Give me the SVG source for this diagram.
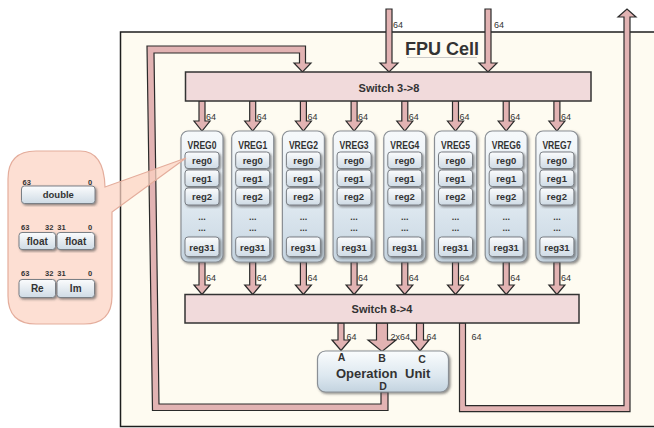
<svg xmlns="http://www.w3.org/2000/svg" xmlns:xlink="http://www.w3.org/1999/xlink" width="654" height="428" viewBox="0 0 654 428">
<defs>
<style>
.t{font-family:"Liberation Sans",Arial,sans-serif;font-weight:bold;fill:#333}
.c{text-anchor:middle}
.lbl{font-family:"Liberation Sans",Arial,sans-serif;font-size:9px;fill:#333}
.arrow{fill:#e2b3b3;stroke:#2a2a2a;stroke-width:1.2;stroke-linejoin:miter}
.sw{fill:#f1dadb;stroke:#333;stroke-width:1.5}
.vreg{fill:url(#gv);stroke:#8a8f95;stroke-width:1.2;filter:url(#sh)}
.reg{fill:url(#gr);stroke:#7a7f85;stroke-width:1;filter:url(#sh)}
.vt{font-size:10.5px}
.rt{font-size:9.5px}
.dots{font-size:9px}
.bl{font-family:"Liberation Sans",Arial,sans-serif;font-size:7.5px;font-weight:bold;fill:#333}
</style>
<linearGradient id="gv" x1="0" y1="0" x2="0" y2="1">
<stop offset="0" stop-color="#f6f9fb"/>
<stop offset="0.5" stop-color="#e2ebf2"/>
<stop offset="1" stop-color="#c6d5e1"/>
</linearGradient>
<linearGradient id="gr" x1="0" y1="0" x2="0" y2="1">
<stop offset="0" stop-color="#fbfcfd"/>
<stop offset="1" stop-color="#cfdbe5"/>
</linearGradient>
<linearGradient id="go" x1="0" y1="0" x2="0" y2="1">
<stop offset="0" stop-color="#fafcfd"/>
<stop offset="0.6" stop-color="#dde8f0"/>
<stop offset="1" stop-color="#c3d3df"/>
</linearGradient>
<filter id="sh" x="-20%" y="-20%" width="140%" height="140%">
<feDropShadow dx="1.5" dy="1.5" stdDeviation="0.8" flood-color="#444" flood-opacity="0.6"/>
</filter>
<path id="aTop" d="M-3,101 H3 V121 H8 L0,131 L-8,121 H-3 Z"/>
<path id="aBot" d="M-3,262 H3 V285 H8 L0,294.5 L-8,285 H-3 Z"/>
</defs>

<rect x="0" y="0" width="654" height="428" fill="#ffffff"/>

<g id="fpu">
<rect x="120.5" y="32" width="545" height="394.5" fill="#fefbf1" stroke="#1e1e1e" stroke-width="1.5"/>
<text class="t" x="442" y="55" font-size="18" text-anchor="middle">FPU Cell</text>
<line x1="407" y1="57.5" x2="477" y2="57.5" stroke="#bbb" stroke-width="0.8"/>
</g>

<g id="connectors">
<path class="arrow" d="M381,392 H388 V410.5 H152.5 L147,46 H305.5 V63 H311 L302.5,72 L294,63 H299.5 V53 H154 L159,404 H381 Z"/>
<path class="arrow" d="M459.5,323 V411.7 H630 V17 H636 L627,9 L618,17 H624 V405.7 H465.5 V323 Z"/>
<path class="arrow" d="M386,9 H392 V63 H398 L389,72 L380,63 H386 Z"/>
<path class="arrow" d="M485,9 H491 V63 H497 L488,72 L479,63 H485 Z"/>
<use href="#aTop" class="arrow" x="202"/>
<use href="#aTop" class="arrow" x="252.7"/>
<use href="#aTop" class="arrow" x="303.4"/>
<use href="#aTop" class="arrow" x="354.1"/>
<use href="#aTop" class="arrow" x="404.8"/>
<use href="#aTop" class="arrow" x="455.5"/>
<use href="#aTop" class="arrow" x="506.2"/>
<use href="#aTop" class="arrow" x="556.9"/>
<use href="#aBot" class="arrow" x="202"/>
<use href="#aBot" class="arrow" x="252.7"/>
<use href="#aBot" class="arrow" x="303.4"/>
<use href="#aBot" class="arrow" x="354.1"/>
<use href="#aBot" class="arrow" x="404.8"/>
<use href="#aBot" class="arrow" x="455.5"/>
<use href="#aBot" class="arrow" x="506.2"/>
<use href="#aBot" class="arrow" x="556.9"/>
<path class="arrow" d="M338,323 H344 V340 H350 L341,350.5 L332,340 H338 Z"/>
<path class="arrow" d="M376.5,323 H387.5 V340 H396 L382,351.5 L368,340 H376.5 Z"/>
<path class="arrow" d="M416.5,323 H423.5 V340 H429 L420,351 L411,340 H416.5 Z"/>
<text class="lbl" x="393" y="28">64</text>
<text class="lbl" x="494" y="28">64</text>
<text class="lbl" x="206" y="120">64</text>
<text class="lbl" x="256.7" y="120">64</text>
<text class="lbl" x="307.4" y="120">64</text>
<text class="lbl" x="358.1" y="120">64</text>
<text class="lbl" x="408.8" y="120">64</text>
<text class="lbl" x="459.5" y="120">64</text>
<text class="lbl" x="510.2" y="120">64</text>
<text class="lbl" x="560.9" y="120">64</text>
<text class="lbl" x="206" y="280.5">64</text>
<text class="lbl" x="256.7" y="280.5">64</text>
<text class="lbl" x="307.4" y="280.5">64</text>
<text class="lbl" x="358.1" y="280.5">64</text>
<text class="lbl" x="408.8" y="280.5">64</text>
<text class="lbl" x="459.5" y="280.5">64</text>
<text class="lbl" x="510.2" y="280.5">64</text>
<text class="lbl" x="560.9" y="280.5">64</text>
<text class="lbl" x="346.5" y="340">64</text>
<text class="lbl" x="390.5" y="340">2x64</text>
<text class="lbl" x="426.5" y="340">64</text>
<text class="lbl" x="471.5" y="340">64</text>
</g>

<g id="switch38">
<rect class="sw" x="185.5" y="72" width="405.5" height="29"/>
<text class="t c" x="389" y="92" font-size="11">Switch 3-&gt;8</text>
</g>
<g id="switch84">
<rect class="sw" x="185" y="294.5" width="394" height="28.5"/>
<text class="t c" x="382" y="313" font-size="11">Switch 8-&gt;4</text>
</g>

<g id="vreg0" transform="translate(202,0)">
<rect class="vreg" x="-21" y="131" width="42" height="131" rx="7"/>
<text class="t c vt" x="0" y="148.5" textLength="29" lengthAdjust="spacingAndGlyphs">VREG0</text>
<rect class="reg" x="-17" y="152" width="34" height="16.5" rx="3"/><text class="t c rt" x="0" y="163.5">reg0</text>
<rect class="reg" x="-17" y="170" width="34" height="16.5" rx="3"/><text class="t c rt" x="0" y="181.8">reg1</text>
<rect class="reg" x="-17" y="188" width="34" height="17" rx="3"/><text class="t c rt" x="0" y="200">reg2</text>
<text class="t c dots" x="0" y="219.5">...</text><text class="t c dots" x="0" y="231">...</text>
<rect class="reg" x="-17" y="237" width="34" height="19.5" rx="3"/><text class="t c rt" x="0" y="250.5">reg31</text>
</g>
<g id="vreg1" transform="translate(252.7,0)">
<rect class="vreg" x="-21" y="131" width="42" height="131" rx="7"/>
<text class="t c vt" x="0" y="148.5" textLength="29" lengthAdjust="spacingAndGlyphs">VREG1</text>
<rect class="reg" x="-17" y="152" width="34" height="16.5" rx="3"/><text class="t c rt" x="0" y="163.5">reg0</text>
<rect class="reg" x="-17" y="170" width="34" height="16.5" rx="3"/><text class="t c rt" x="0" y="181.8">reg1</text>
<rect class="reg" x="-17" y="188" width="34" height="17" rx="3"/><text class="t c rt" x="0" y="200">reg2</text>
<text class="t c dots" x="0" y="219.5">...</text><text class="t c dots" x="0" y="231">...</text>
<rect class="reg" x="-17" y="237" width="34" height="19.5" rx="3"/><text class="t c rt" x="0" y="250.5">reg31</text>
</g>
<g id="vreg2" transform="translate(303.4,0)">
<rect class="vreg" x="-21" y="131" width="42" height="131" rx="7"/>
<text class="t c vt" x="0" y="148.5" textLength="29" lengthAdjust="spacingAndGlyphs">VREG2</text>
<rect class="reg" x="-17" y="152" width="34" height="16.5" rx="3"/><text class="t c rt" x="0" y="163.5">reg0</text>
<rect class="reg" x="-17" y="170" width="34" height="16.5" rx="3"/><text class="t c rt" x="0" y="181.8">reg1</text>
<rect class="reg" x="-17" y="188" width="34" height="17" rx="3"/><text class="t c rt" x="0" y="200">reg2</text>
<text class="t c dots" x="0" y="219.5">...</text><text class="t c dots" x="0" y="231">...</text>
<rect class="reg" x="-17" y="237" width="34" height="19.5" rx="3"/><text class="t c rt" x="0" y="250.5">reg31</text>
</g>
<g id="vreg3" transform="translate(354.1,0)">
<rect class="vreg" x="-21" y="131" width="42" height="131" rx="7"/>
<text class="t c vt" x="0" y="148.5" textLength="29" lengthAdjust="spacingAndGlyphs">VREG3</text>
<rect class="reg" x="-17" y="152" width="34" height="16.5" rx="3"/><text class="t c rt" x="0" y="163.5">reg0</text>
<rect class="reg" x="-17" y="170" width="34" height="16.5" rx="3"/><text class="t c rt" x="0" y="181.8">reg1</text>
<rect class="reg" x="-17" y="188" width="34" height="17" rx="3"/><text class="t c rt" x="0" y="200">reg2</text>
<text class="t c dots" x="0" y="219.5">...</text><text class="t c dots" x="0" y="231">...</text>
<rect class="reg" x="-17" y="237" width="34" height="19.5" rx="3"/><text class="t c rt" x="0" y="250.5">reg31</text>
</g>
<g id="vreg4" transform="translate(404.8,0)">
<rect class="vreg" x="-21" y="131" width="42" height="131" rx="7"/>
<text class="t c vt" x="0" y="148.5" textLength="29" lengthAdjust="spacingAndGlyphs">VREG4</text>
<rect class="reg" x="-17" y="152" width="34" height="16.5" rx="3"/><text class="t c rt" x="0" y="163.5">reg0</text>
<rect class="reg" x="-17" y="170" width="34" height="16.5" rx="3"/><text class="t c rt" x="0" y="181.8">reg1</text>
<rect class="reg" x="-17" y="188" width="34" height="17" rx="3"/><text class="t c rt" x="0" y="200">reg2</text>
<text class="t c dots" x="0" y="219.5">...</text><text class="t c dots" x="0" y="231">...</text>
<rect class="reg" x="-17" y="237" width="34" height="19.5" rx="3"/><text class="t c rt" x="0" y="250.5">reg31</text>
</g>
<g id="vreg5" transform="translate(455.5,0)">
<rect class="vreg" x="-21" y="131" width="42" height="131" rx="7"/>
<text class="t c vt" x="0" y="148.5" textLength="29" lengthAdjust="spacingAndGlyphs">VREG5</text>
<rect class="reg" x="-17" y="152" width="34" height="16.5" rx="3"/><text class="t c rt" x="0" y="163.5">reg0</text>
<rect class="reg" x="-17" y="170" width="34" height="16.5" rx="3"/><text class="t c rt" x="0" y="181.8">reg1</text>
<rect class="reg" x="-17" y="188" width="34" height="17" rx="3"/><text class="t c rt" x="0" y="200">reg2</text>
<text class="t c dots" x="0" y="219.5">...</text><text class="t c dots" x="0" y="231">...</text>
<rect class="reg" x="-17" y="237" width="34" height="19.5" rx="3"/><text class="t c rt" x="0" y="250.5">reg31</text>
</g>
<g id="vreg6" transform="translate(506.2,0)">
<rect class="vreg" x="-21" y="131" width="42" height="131" rx="7"/>
<text class="t c vt" x="0" y="148.5" textLength="29" lengthAdjust="spacingAndGlyphs">VREG6</text>
<rect class="reg" x="-17" y="152" width="34" height="16.5" rx="3"/><text class="t c rt" x="0" y="163.5">reg0</text>
<rect class="reg" x="-17" y="170" width="34" height="16.5" rx="3"/><text class="t c rt" x="0" y="181.8">reg1</text>
<rect class="reg" x="-17" y="188" width="34" height="17" rx="3"/><text class="t c rt" x="0" y="200">reg2</text>
<text class="t c dots" x="0" y="219.5">...</text><text class="t c dots" x="0" y="231">...</text>
<rect class="reg" x="-17" y="237" width="34" height="19.5" rx="3"/><text class="t c rt" x="0" y="250.5">reg31</text>
</g>
<g id="vreg7" transform="translate(556.9,0)">
<rect class="vreg" x="-21" y="131" width="42" height="131" rx="7"/>
<text class="t c vt" x="0" y="148.5" textLength="29" lengthAdjust="spacingAndGlyphs">VREG7</text>
<rect class="reg" x="-17" y="152" width="34" height="16.5" rx="3"/><text class="t c rt" x="0" y="163.5">reg0</text>
<rect class="reg" x="-17" y="170" width="34" height="16.5" rx="3"/><text class="t c rt" x="0" y="181.8">reg1</text>
<rect class="reg" x="-17" y="188" width="34" height="17" rx="3"/><text class="t c rt" x="0" y="200">reg2</text>
<text class="t c dots" x="0" y="219.5">...</text><text class="t c dots" x="0" y="231">...</text>
<rect class="reg" x="-17" y="237" width="34" height="19.5" rx="3"/><text class="t c rt" x="0" y="250.5">reg31</text>
</g>

<g id="opunit">
<rect x="317.5" y="351" width="131" height="41" rx="8" fill="url(#go)" stroke="#8a8f95" stroke-width="1.2" filter="url(#sh)"/>
<text class="t c" x="341.5" y="360.5" font-size="10.5">A</text>
<text class="t c" x="382" y="361.5" font-size="10.5">B</text>
<text class="t c" x="422" y="363" font-size="10.5">C</text>
<text class="t" x="336" y="378" font-size="13">Operation <tspan x="405">Unit</tspan></text>
<text class="t c" x="383" y="389.5" font-size="10.5">D</text>
</g>

<g id="formats">
<path d="M36,151 H80 Q104,151 105,187 L186,158 L112,212 V296 Q112,324 84,324 H36 Q8,324 8,296 V179 Q8,151 36,151 Z" fill="#fcd2c2" fill-opacity="0.72" stroke="#e4ad9c" stroke-width="1.2"/>
<text class="bl" x="22.5" y="184.5">63</text>
<text class="bl" x="88" y="184.5">0</text>
<rect class="reg" x="21.5" y="186" width="73.5" height="17.5" rx="3"/>
<text class="t c" x="58.3" y="198" font-size="9.5">double</text>
<text class="bl" x="21" y="230">63</text>
<text class="bl" x="45" y="230">32</text>
<text class="bl" x="57.3" y="230">31</text>
<text class="bl" x="88" y="230">0</text>
<rect class="reg" x="19" y="232.5" width="36.5" height="17" rx="3"/>
<rect class="reg" x="57" y="232.5" width="37.5" height="17" rx="3"/>
<text class="t c" x="37.3" y="244.5" font-size="10">float</text>
<text class="t c" x="75.7" y="244.5" font-size="10">float</text>
<text class="bl" x="21" y="275.5">63</text>
<text class="bl" x="45" y="275.5">32</text>
<text class="bl" x="57.3" y="275.5">31</text>
<text class="bl" x="88" y="275.5">0</text>
<rect class="reg" x="19" y="279.5" width="36.5" height="18" rx="3"/>
<rect class="reg" x="57" y="279.5" width="37.5" height="18" rx="3"/>
<text class="t c" x="37.3" y="292" font-size="10">Re</text>
<text class="t c" x="75.7" y="292" font-size="10">Im</text>
</g>
</svg>
